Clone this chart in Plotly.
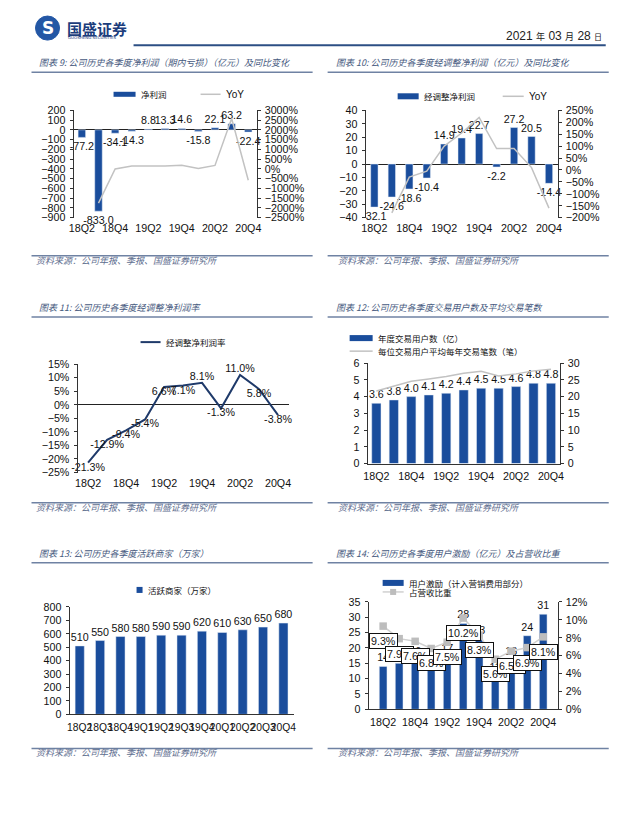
import plotly.graph_objects as go

W, H = 640, 814
# the captured picture is slightly reduced and offset; compensate so the marks land where intended
SX, OX = 0.984, 4.5
SY, OY = 0.982, 8.0


def X(px):
    return ((px - OX) / SX) / W


def Y(py):
    return 1 - ((py - OY) / SY) / H


# ---------------- data ----------------
quarters = ["18Q2", "18Q3", "18Q4", "19Q1", "19Q2", "19Q3", "19Q4", "20Q1", "20Q2", "20Q3", "20Q4"]
sparse_ticks = quarters[::2]

net_profit = [-77.2, -833.0, -34.1, -14.3, 8.8, 13.3, 14.6, -15.8, 22.1, 63.2, -22.4]
net_profit_yoy = [None, -1750, 0, 150, 150, 150, 190, 20, 180, 2580, -580]

adj_net_profit = [-32.1, -24.6, -18.6, -10.4, 14.9, 19.4, 22.7, -2.2, 27.2, 20.5, -14.4]
adj_net_profit_yoy = [None, -180, -30, -5, 100, 155, 220, 90, 90, 10, -160]

adj_margin = [-21.3, -12.9, -9.4, -5.4, 6.6, 7.1, 8.1, -1.3, 11.0, 5.8, -3.8]
adj_margin_pos = ["bottom center"] * 6 + ["top center", "bottom center", "top center",
                                          "bottom center", "bottom center"]

annual_users = [3.6, 3.8, 4.0, 4.1, 4.2, 4.4, 4.5, 4.5, 4.6, 4.8, 4.8]
orders_per_user = [21.7, 23.2, 24.6, 25.3, 26.0, 27.0, 27.6, 26.2, 26.8, 27.7, 28.2]

active_merchants = [510, 550, 580, 580, 590, 590, 620, 610, 630, 650, 680]

user_incentive = [14, 15, 16, 13, 17, 28, 23, 11, 16, 24, 31]
incentive_ratio = [9.3, 7.9, 7.6, 6.8, 7.5, 10.2, 8.3, 5.6, 6.5, 6.9, 8.1]

titles = [
    "图表 9: 公司历史各季度净利润（期内亏损）（亿元）及同比变化",
    "图表 10: 公司历史各季度经调整净利润（亿元）及同比变化",
    "图表 11: 公司历史各季度经调整净利润率",
    "图表 12: 公司历史各季度交易用户数及平均交易笔数",
    "图表 13: 公司历史各季度活跃商家（万家）",
    "图表 14: 公司历史各季度用户激励（亿元）及占营收比重",
]
source_text = "资料来源：公司年报、季报、国盛证券研究所"

# ---------------- style ----------------
NUM = "Liberation Sans Narrow, Arial Narrow, Liberation Sans, Arial, sans-serif"
CJK = "Noto Sans CJK SC, sans-serif"
BAR = "#1a4d9c"
GRAY = "#c2c2c2"
NAVY = "#1f3a6a"
TXT = "#111111"
TITLE_C = "#46597e"
RULE_C = "#6f82a3"
tickfont = dict(family=NUM, size=10.7, color=TXT)
labfont = dict(family=NUM, size=10.7, color=TXT)

fig = go.Figure()

# Panel 1
fig.add_trace(go.Bar(x=quarters, y=net_profit, marker_color=BAR, width=0.45,
                     texttemplate="%{y:.1f}", textposition="outside", textfont=labfont,
                     constraintext="none", cliponaxis=False, xaxis="x", yaxis="y"))
fig.add_trace(go.Scatter(x=quarters, y=net_profit_yoy, mode="lines", line=dict(color=GRAY, width=1.5),
                         xaxis="x", yaxis="y2", cliponaxis=False))
# Panel 2
fig.add_trace(go.Bar(x=quarters, y=adj_net_profit, marker_color=BAR, width=0.42,
                     texttemplate="%{y:.1f}", textposition="outside", textfont=labfont,
                     constraintext="none", cliponaxis=False, xaxis="x2", yaxis="y3"))
fig.add_trace(go.Scatter(x=quarters, y=adj_net_profit_yoy, mode="lines", line=dict(color=GRAY, width=1.5),
                         xaxis="x2", yaxis="y4", cliponaxis=False))
# Panel 3
fig.add_trace(go.Scatter(x=quarters, y=adj_margin, mode="lines+text", line=dict(color=NAVY, width=2),
                         texttemplate="%{y:.1f}%", textposition=adj_margin_pos, textfont=labfont,
                         cliponaxis=False, xaxis="x3", yaxis="y5"))
# Panel 4
fig.add_trace(go.Bar(x=quarters, y=annual_users, marker_color=BAR, width=0.53,
                     texttemplate="%{y:.1f}", textposition="outside", textfont=labfont,
                     constraintext="none", cliponaxis=False, xaxis="x4", yaxis="y6"))
fig.add_trace(go.Scatter(x=quarters, y=orders_per_user, mode="lines", line=dict(color=GRAY, width=1.5),
                         xaxis="x4", yaxis="y7", cliponaxis=False))
# Panel 5
fig.add_trace(go.Bar(x=quarters, y=active_merchants, marker_color=BAR, width=0.45,
                     texttemplate="%{y}", textposition="outside", textfont=labfont,
                     constraintext="none", cliponaxis=False, xaxis="x5", yaxis="y8"))
# Panel 6
fig.add_trace(go.Bar(x=quarters, y=user_incentive, marker_color=BAR, width=0.48,
                     texttemplate="%{y}", textposition="outside", textfont=labfont,
                     constraintext="none", cliponaxis=False, xaxis="x6", yaxis="y9"))
fig.add_trace(go.Scatter(x=quarters, y=incentive_ratio, mode="lines+markers",
                         line=dict(color="#d0d0d0", width=1.5),
                         marker=dict(symbol="square", size=7.5, color="#bdbdbd"),
                         xaxis="x6", yaxis="y10", cliponaxis=False))


def xaxis(x0, x1, y_anchor, ticks, showline=False):
    return dict(domain=[X(x0), X(x1)], anchor=y_anchor, type="category",
                tickmode="array", tickvals=ticks, ticktext=ticks, tickangle=0,
                tickfont=tickfont, showgrid=False, zeroline=False,
                showline=showline, linecolor="#333", linewidth=1, ticks="",
                ticklabelstandoff=3)


def yaxis(ytop, ybot, anchor, rng, dtick, suffix="", side="left", overlay=None, zero=False):
    d = dict(range=rng, dtick=dtick, tick0=0, ticksuffix=suffix, side=side, anchor=anchor,
             tickfont=tickfont, showgrid=False, showline=True, linecolor="#333", linewidth=1,
             ticks="outside", ticklen=3, tickcolor="#333", zeroline=zero,
             zerolinecolor="#222", zerolinewidth=1, ticklabelstandoff=2)
    if overlay:
        d["overlaying"] = overlay
    else:
        d["domain"] = [Y(ybot), Y(ytop)]
    return d


fig.update_layout(
    width=W, height=H, autosize=False, margin=dict(l=0, r=0, t=0, b=0),
    paper_bgcolor="white", plot_bgcolor="rgba(0,0,0,0)", showlegend=False,
    xaxis=xaxis(73, 256, "y", sparse_ticks),
    yaxis=yaxis(112, 219, "x", [-900, 200], 100, zero=True),
    yaxis2=yaxis(112, 219, "x", [-2500, 3000], 500, "%", "right", "y"),
    xaxis2=xaxis(365, 557, "y3", sparse_ticks),
    yaxis3=yaxis(112, 219, "x2", [-40, 40], 10, zero=True),
    yaxis4=yaxis(112, 219, "x2", [-200, 250], 50, "%", "right", "y3"),
    xaxis3=xaxis(77, 288, "y5", sparse_ticks),
    yaxis5=yaxis(365, 473, "x3", [-25, 15], 5, "%", zero=True),
    xaxis4=xaxis(367, 559, "y6", sparse_ticks, showline=True),
    yaxis6=yaxis(364, 464, "x4", [0, 6], 1),
    yaxis7=yaxis(364, 464, "x4", [0, 30], 5, "", "right", "y6"),
    xaxis5=xaxis(69, 293, "y8", quarters, showline=True),
    yaxis8=yaxis(607, 714, "x5", [0, 800], 100),
    xaxis6=xaxis(368, 557, "y9", sparse_ticks, showline=True),
    yaxis9=yaxis(602, 709, "x6", [0, 35], 5),
    yaxis10=yaxis(602, 709, "x6", [0, 12], 2, "%", "right", "y9"),
)
fig.update_layout(xaxis5=dict(tickfont=dict(family=NUM, size=10.3, color=TXT)))

ann = []
shapes = []


def text(x, y, s, size=9, color=TXT, family=CJK, xanchor="left", **kw):
    ann.append(dict(x=X(x), y=Y(y), xref="paper", yref="paper", text=s, showarrow=False,
                    xanchor=xanchor, yanchor="middle", font=dict(family=family, size=size, color=color), **kw))


def hline(x0, x1, y, color=RULE_C, width=1.5):
    shapes.append(dict(type="line", xref="paper", yref="paper", x0=X(x0), x1=X(x1), y0=Y(y), y1=Y(y),
                       line=dict(color=color, width=width)))


def rect(x0, x1, y0, y1, color):
    shapes.append(dict(type="rect", xref="paper", yref="paper", x0=X(x0), x1=X(x1), y0=Y(y1), y1=Y(y0),
                       fillcolor=color, line=dict(width=0)))


# Header
shapes.append(dict(type="circle", xref="paper", yref="paper", x0=X(35), x1=X(59), y0=Y(42), y1=Y(18),
                   fillcolor="#2357a5", line=dict(color="#2357a5", width=1)))
text(47, 30, "<b>S</b>", size=17, color="white", family="DejaVu Sans", xanchor="center")
text(64, 30, "<b>国盛证券</b>", size=15, color="#1c3d7c")
text(65, 39.5, "GUOSHENG SECURITIES", size=4, color="#1c3d7c", family="DejaVu Sans")
text(603, 38, "2021 <span style='font-size:9px'>年</span> 03 <span style='font-size:9px'>月</span> 28 <span style='font-size:8px'>日</span>",
     size=12, color="#222", family="Liberation Sans, " + CJK, xanchor="right")
hline(133, 605, 47, color="#2c4f84", width=2)

# Titles, rules, sources
title_pos = [(36, 64), (333, 64), (36, 309), (333, 309), (36, 554), (333, 554)]
rule_rows = [(74, 257, 262), (318, 503, 508), (563, 748, 752)]
for i, t in enumerate(titles):
    tx, ty = title_pos[i]
    text(tx, ty, "<i>" + t + "</i>", size=9, color=TITLE_C)
for top, bot, src in rule_rows:
    for (x0, x1, sx) in [(31, 312, 33), (327, 608, 335)]:
        hline(x0, x1, top)
        hline(x0, x1, bot)
        text(sx, src, "<i>" + source_text + "</i>", size=9, color="#5d6d8e")

# Legends
rect(113, 135, 93.5, 98.5, BAR)
text(138, 96, "净利润", size=8.5)
hline(200, 220, 96, color=GRAY, width=1.5)
text(223, 96, "YoY", size=10, family=NUM)

rect(397, 418, 95, 101, BAR)
text(421, 98, "经调整净利润", size=8.5)
hline(502, 523, 98, color=GRAY, width=1.5)
text(526, 98, "YoY", size=10, family=NUM)

hline(140, 160, 343, color=NAVY, width=2)
text(163, 343, "经调整净利润率", size=8.5)

rect(349, 372, 336, 342, BAR)
text(375, 339, "年度交易用户数（亿）", size=8.5)
hline(349, 372, 352, color=GRAY, width=1.5)
text(375, 352, "每位交易用户平均每年交易笔数（笔）", size=8.5)

rect(136, 142, 587, 593, BAR)
text(145, 590, "活跃商家（万家）", size=8.5)

rect(382, 403, 580, 586, BAR)
text(406, 583, "用户激励（计入营销费用部分）", size=8.5)
hline(382, 403, 592, color="#d0d0d0", width=1.5)
rect(389.5, 395.5, 589, 595, "#bdbdbd")
text(406, 592, "占营收比重", size=8.5)

# Boxed ratio labels for panel 6
for q, v in zip(quarters, incentive_ratio):
    ann.append(dict(x=q, y=v, xref="x6", yref="y10", text=f"{v:.1f}%", showarrow=False,
                    yshift=-15, bgcolor="white", bordercolor="#111", borderwidth=1, borderpad=1,
                    font=dict(family=NUM, size=10.7, color=TXT)))

fig.update_layout(annotations=ann, shapes=shapes)
fig.write_html(
    "out.html",
    config={"displayModeBar": False, "staticPlot": True},
    post_script=("document.documentElement.style.margin='0';document.documentElement.style.padding='0';"
                 "document.documentElement.style.overflow='hidden';"
                 "document.body.style.margin='0';document.body.style.padding='0';"
                 "document.body.style.overflow='hidden';"),
)
